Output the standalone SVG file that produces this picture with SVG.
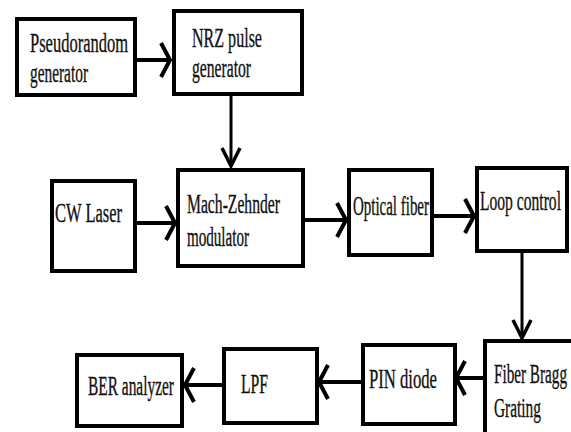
<svg xmlns="http://www.w3.org/2000/svg" width="571" height="432" viewBox="0 0 571 432">
<style>
.box{fill:#fff;stroke:#000;stroke-width:4}
.lbl{font-size:27px;fill:#111;stroke:#111;stroke-width:0.35}
.con{fill:none;stroke:#000;stroke-width:4}
.conv{fill:none;stroke:#000;stroke-width:3}
</style>
<defs>
<marker id="arrH" markerUnits="userSpaceOnUse" viewBox="-13 -21 16 42" markerWidth="16" markerHeight="42" refX="0" refY="0" orient="auto">
<path d="M-9,-17 L0,0 L-9,17" fill="none" stroke="#000" stroke-width="4"/>
</marker>
<marker id="arrV" markerUnits="userSpaceOnUse" viewBox="-22 -12 25 24" markerWidth="25" markerHeight="24" refX="0" refY="0" orient="auto">
<path d="M-18,-9 L0,0 L-18,9" fill="none" stroke="#000" stroke-width="3.5"/>
</marker>
</defs>
<rect width="571" height="432" fill="#fff"/>
<g id="connectors">
<path class="con" d="M137,60 H170" marker-end="url(#arrH)"/>
<path class="conv" d="M231,95 V166" marker-end="url(#arrV)"/>
<path class="con" d="M137,223 H175" marker-end="url(#arrH)"/>
<path class="con" d="M305,220 H346" marker-end="url(#arrH)"/>
<path class="con" d="M434,216 H474" marker-end="url(#arrH)"/>
<path class="conv" d="M522,253 V338" marker-end="url(#arrV)"/>
<path class="con" d="M483,378 H456" marker-end="url(#arrH)"/>
<path class="con" d="M361,382 H319" marker-end="url(#arrH)"/>
<path class="con" d="M222,385 H185" marker-end="url(#arrH)"/>
</g>
<g font-family="Liberation Serif, Times New Roman, serif">
<g id="pseudorandom">
<rect class="box" x="17" y="19" width="118" height="76"/>
<text class="lbl" x="30" y="52" textLength="98" lengthAdjust="spacingAndGlyphs">Pseudorandom</text>
<text class="lbl" x="30" y="82" textLength="58" lengthAdjust="spacingAndGlyphs">generator</text>
</g>
<g id="nrz">
<rect class="box" x="174" y="11" width="128" height="83"/>
<text class="lbl" x="192" y="47" textLength="70" lengthAdjust="spacingAndGlyphs">NRZ pulse</text>
<text class="lbl" x="192" y="77" textLength="59" lengthAdjust="spacingAndGlyphs">generator</text>
</g>
<g id="cwlaser">
<rect class="box" x="52" y="181" width="83" height="90"/>
<text class="lbl" x="55" y="222" textLength="67" lengthAdjust="spacingAndGlyphs">CW Laser</text>
</g>
<g id="mzm">
<rect class="box" x="178" y="170" width="125" height="96"/>
<text class="lbl" x="187" y="213" textLength="93" lengthAdjust="spacingAndGlyphs">Mach-Zehnder</text>
<text class="lbl" x="187" y="246" textLength="62" lengthAdjust="spacingAndGlyphs">modulator</text>
</g>
<g id="opticalfiber">
<rect class="box" x="349" y="170" width="83" height="85"/>
<text class="lbl" x="353" y="215" textLength="76" lengthAdjust="spacingAndGlyphs">Optical fiber</text>
</g>
<g id="loopcontrol">
<rect class="box" x="477" y="168" width="90" height="83"/>
<text class="lbl" x="480" y="210" textLength="81" lengthAdjust="spacingAndGlyphs">Loop control</text>
</g>
<g id="fbg">
<rect class="box" x="485" y="341" width="100" height="100"/>
<text class="lbl" x="494" y="383" textLength="73" lengthAdjust="spacingAndGlyphs">Fiber Bragg</text>
<text class="lbl" x="494" y="417" textLength="47" lengthAdjust="spacingAndGlyphs">Grating</text>
</g>
<g id="pindiode">
<rect class="box" x="363" y="345" width="92" height="79"/>
<text class="lbl" x="369" y="388" textLength="68" lengthAdjust="spacingAndGlyphs">PIN diode</text>
</g>
<g id="lpf">
<rect class="box" x="224" y="349" width="93" height="74"/>
<text class="lbl" x="241" y="393" textLength="27" lengthAdjust="spacingAndGlyphs">LPF</text>
</g>
<g id="ber">
<rect class="box" x="77" y="355" width="105" height="71"/>
<text class="lbl" x="88" y="395" textLength="86" lengthAdjust="spacingAndGlyphs">BER analyzer</text>
</g>
</g>
</svg>
